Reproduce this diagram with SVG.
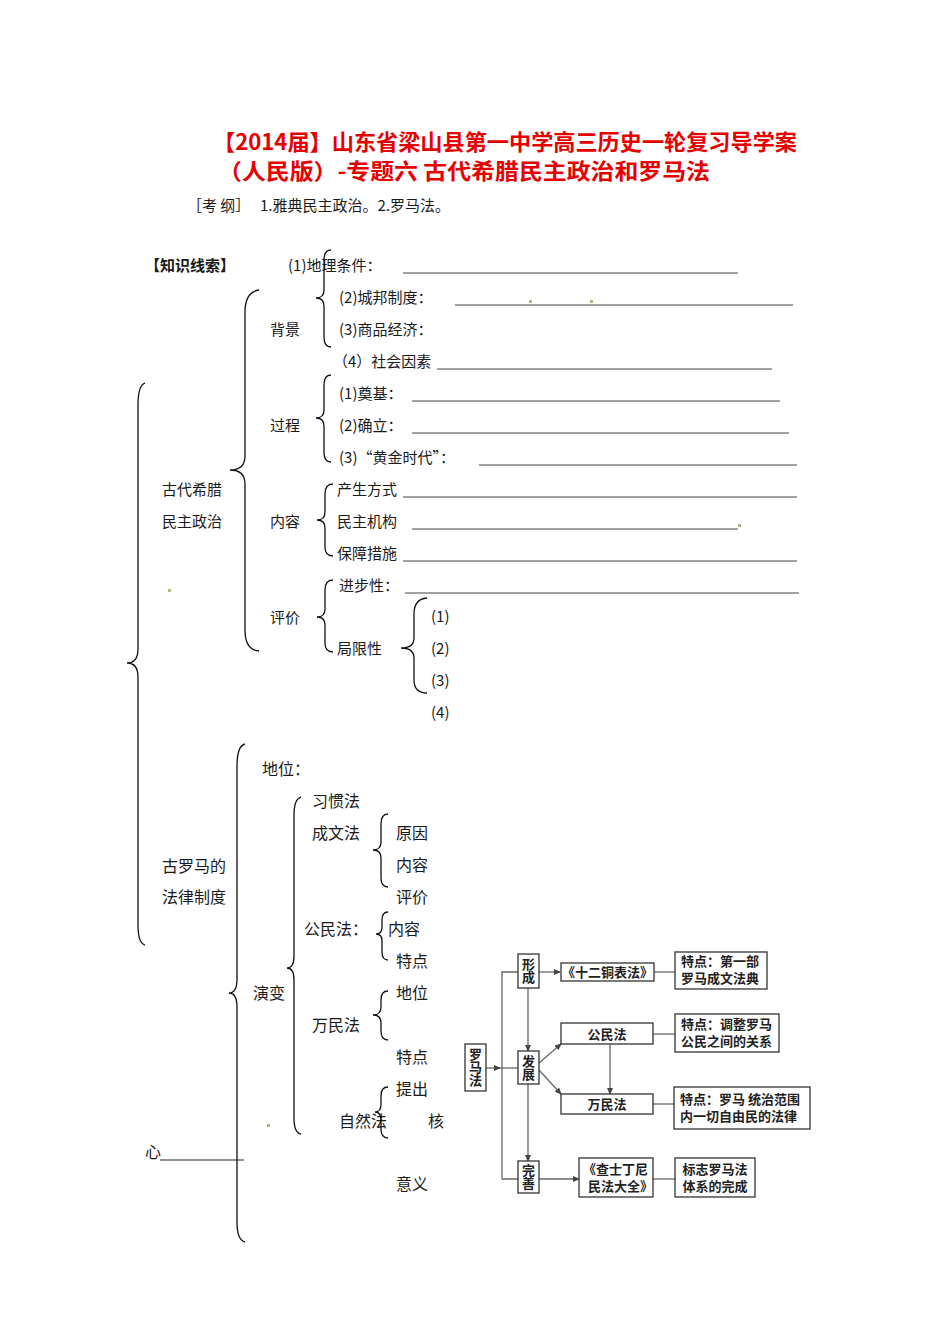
<svg xmlns="http://www.w3.org/2000/svg" width="950" height="1344" viewBox="0 0 950 1344">
<style>
text{font-family:"Noto Sans CJK SC","Liberation Sans",sans-serif;fill:#1a1a1a}
.t{fill:#e60000;font-weight:bold;font-size:22px}
.s15{font-size:15px}
.s16{font-size:16px}
.b{fill:none;stroke:#111;stroke-width:1.3}
.u{stroke:#444;stroke-width:1}
.dot{fill:#b8b27a}
.box{fill:#fff;stroke:#333;stroke-width:1.3}
.c{fill:none;stroke:#666;stroke-width:1.3}
.f{font-size:13px;font-weight:bold;fill:#222}
.v{font-size:13px;font-weight:bold;fill:#222;writing-mode:vertical-rl;text-anchor:middle}
</style>
<defs>
<marker id="ah" markerWidth="7" markerHeight="6" refX="6" refY="3" orient="auto" markerUnits="userSpaceOnUse">
<path d="M0,0 L7,3 L0,6 Z" fill="#444"/>
</marker>
</defs>
<rect width="950" height="1344" fill="#fff"/>

<g id="title">
<text class="t" x="213" y="150" textLength="584" lengthAdjust="spacingAndGlyphs">【2014届】山东省梁山县第一中学高三历史一轮复习导学案</text>
<text class="t" x="218" y="179" textLength="492" lengthAdjust="spacingAndGlyphs">（人民版）-专题六 古代希腊民主政治和罗马法</text>
<text class="s15" x="187" y="211">［考 纲］</text>
<text class="s15" x="260" y="211">1.雅典民主政治。2.罗马法。</text>
<rect class="dot" x="314" y="208" width="3" height="3"/>
</g>

<g id="greece">
<text class="s15" x="145" y="271" font-weight="bold">【知识线索】</text>
<text class="s15" x="288" y="271">(1)地理条件：</text>
<line class="u" x1="403" y1="273" x2="738" y2="273"/>
<text class="s15" x="339" y="303">(2)城邦制度：</text>
<line class="u" x1="455" y1="305" x2="793" y2="305"/>
<rect class="dot" x="529" y="300" width="3" height="3"/>
<rect class="dot" x="590" y="300" width="3" height="3"/>
<text class="s15" x="270" y="335">背景</text>
<text class="s15" x="339" y="335">(3)商品经济：</text>
<text class="s15" x="333" y="367">（4）社会因素</text>
<line class="u" x1="437" y1="369" x2="772" y2="369"/>
<text class="s15" x="339" y="399">(1)奠基：</text>
<line class="u" x1="412" y1="401" x2="780" y2="401"/>
<text class="s15" x="270" y="431">过程</text>
<text class="s15" x="339" y="431">(2)确立：</text>
<line class="u" x1="412" y1="433" x2="789" y2="433"/>
<text class="s15" x="339" y="463">(3)“黄金时代”：</text>
<line class="u" x1="479" y1="465" x2="797" y2="465"/>
<text class="s15" x="162" y="495">古代希腊</text>
<text class="s15" x="162" y="527">民主政治</text>
<text class="s15" x="337" y="495">产生方式</text>
<line class="u" x1="403" y1="497" x2="797" y2="497"/>
<text class="s15" x="270" y="527">内容</text>
<text class="s15" x="337" y="527">民主机构</text>
<line class="u" x1="412" y1="529" x2="738" y2="529"/>
<rect class="dot" x="738" y="524" width="3" height="3"/>
<text class="s15" x="337" y="559">保障措施</text>
<line class="u" x1="403" y1="561" x2="797" y2="561"/>
<text class="s15" x="339" y="591">进步性：</text>
<line class="u" x1="405" y1="593" x2="799" y2="593"/>
<rect class="dot" x="168" y="589" width="3" height="3"/>
<text class="s15" x="270" y="623">评价</text>
<text class="s15" x="431" y="622">(1)</text>
<text class="s15" x="337" y="654">局限性</text>
<text class="s15" x="431" y="654">(2)</text>
<text class="s15" x="431" y="686">(3)</text>
<text class="s15" x="431" y="718">(4)</text>
</g>

<g id="rome">
<text class="s16" x="162" y="872">古罗马的</text>
<text class="s16" x="162" y="903">法律制度</text>
<text class="s16" x="262" y="775">地位：</text>
<text class="s16" x="312" y="807">习惯法</text>
<text class="s16" x="312" y="839">成文法</text>
<text class="s16" x="396" y="839">原因</text>
<text class="s16" x="396" y="871">内容</text>
<text class="s16" x="396" y="903">评价</text>
<text class="s16" x="304" y="935">公民法：</text>
<text class="s16" x="388" y="935">内容</text>
<text class="s16" x="396" y="967">特点</text>
<text class="s16" x="253" y="999">演变</text>
<text class="s16" x="396" y="999">地位</text>
<text class="s16" x="312" y="1031">万民法</text>
<text class="s16" x="396" y="1063">特点</text>
<text class="s16" x="396" y="1095">提出</text>
<text class="s16" x="339" y="1127">自然法</text>
<text class="s16" x="428" y="1127">核</text>
<text class="s16" x="145" y="1158">心</text>
<line x1="160" y1="1160" x2="244" y2="1160" stroke="#222" stroke-width="1"/>
<text class="s16" x="396" y="1190">意义</text>
<rect class="dot" x="267" y="1124" width="3" height="3"/>
</g>

<g id="braces">
<path class="b" d="M331,250 Q324,250 324,260 L324,290 Q324,298 316,298 Q324,298 324,306 L324,337 Q324,347 331,347"/>
<path class="b" d="M259,290 Q245,292 245,312 L245,456 Q245,470 230,470 Q245,470 245,484 L245,630 Q245,650 259,651"/>
<path class="b" d="M331,375 Q324,375 324,385 L324,410 Q324,418 316,418 Q324,418 324,426 L324,452 Q324,462 331,462"/>
<path class="b" d="M333,484 Q325,484 325,494 L325,512 Q325,520 317,520 Q325,520 325,528 L325,547 Q325,556 333,556"/>
<path class="b" d="M333,580 Q325,580 325,590 L325,609 Q325,617 317,617 Q325,617 325,625 L325,643 Q325,652 333,652"/>
<path class="b" d="M427,598 Q414,599 414,614 L414,638 Q414,648 401,648 Q414,648 414,658 L414,680 Q414,693 427,693"/>
<path class="b" d="M145,383 Q138,385 138,405 L138,649 Q138,663 127,663 Q138,663 138,677 L138,925 Q138,943 145,945"/>
<path class="b" d="M245,744 Q237,746 237,766 L237,979 Q237,993 229,993 Q237,993 237,1007 L237,1222 Q237,1240 245,1242"/>
<path class="b" d="M301,797 Q294,799 294,815 L294,956 Q294,968 287,968 Q294,968 294,980 L294,1118 Q294,1133 301,1134"/>
<path class="b" d="M388,814 Q381,814 381,824 L381,842 Q381,850 373,850 Q381,850 381,858 L381,878 Q381,887 388,887"/>
<path class="b" d="M388,912 Q382,912 382,920 L382,927 Q382,934 376,934 Q382,934 382,941 L382,952 Q382,960 388,960"/>
<path class="b" d="M388,991 Q381,991 381,1000 L381,1007 Q381,1015 373,1015 Q381,1015 381,1023 L381,1031 Q381,1040 388,1040"/>
<path class="b" d="M388,1087 Q381,1087 381,1096 L381,1104 Q381,1112 375,1112 Q381,1112 381,1120 L381,1129 Q381,1138 388,1138"/>
</g>

<g id="connectors">
<path class="c" d="M486,1068 L500,1068" marker-end="url(#ah)"/>
<path class="c" d="M500,1068 L518,1068"/>
<path class="c" d="M518,972 L502,972 L502,1179 L518,1179"/>
<path class="c" d="M539,972 L560,972" marker-end="url(#ah)"/>
<path class="c" d="M654,972 L675,972"/>
<path class="c" d="M528,988 L528,1051" marker-end="url(#ah)"/>
<path class="c" d="M539,1063 L561,1044" marker-end="url(#ah)"/>
<path class="c" d="M539,1070 L561,1094" marker-end="url(#ah)"/>
<path class="c" d="M653,1034 L675,1034"/>
<path class="c" d="M610,1044 L610,1094" marker-end="url(#ah)"/>
<path class="c" d="M653,1104 L674,1104"/>
<path class="c" d="M528,1084 L528,1161" marker-end="url(#ah)"/>
<path class="c" d="M539,1179 L579,1179" marker-end="url(#ah)"/>
<path class="c" d="M653,1179 L675,1179"/>
</g>

<g id="n-luomafa">
<rect class="box" x="465" y="1044" width="21" height="47"/>
<text class="v" x="475.5" y="1067.5">罗马法</text>
</g>
<g id="n-xingcheng">
<rect class="box" x="518" y="954" width="21" height="34"/>
<text class="v" x="528.5" y="971">形成</text>
</g>
<g id="n-fazhan">
<rect class="box" x="518" y="1051" width="21" height="33"/>
<text class="v" x="528.5" y="1067.5">发展</text>
</g>
<g id="n-wanshan">
<rect class="box" x="518" y="1161" width="21" height="32"/>
<text class="v" x="528.5" y="1177">完善</text>
</g>
<g id="n-shier">
<rect class="box" x="561" y="963" width="93" height="18"/>
<text class="f" x="607.5" y="977" text-anchor="middle">《十二铜表法》</text>
</g>
<g id="n-tedian1">
<rect class="box" x="675" y="952" width="92" height="37"/>
<text class="f"><tspan x="681" y="966">特点：第一部</tspan><tspan x="681" y="983">罗马成文法典</tspan></text>
</g>
<g id="n-gongminfa">
<rect class="box" x="561" y="1023" width="92" height="21"/>
<text class="f" x="607" y="1039" text-anchor="middle">公民法</text>
</g>
<g id="n-tedian2">
<rect class="box" x="675" y="1014" width="104" height="38"/>
<text class="f"><tspan x="681" y="1029">特点：调整罗马</tspan><tspan x="681" y="1046">公民之间的关系</tspan></text>
</g>
<g id="n-wanminfa">
<rect class="box" x="561" y="1094" width="92" height="20"/>
<text class="f" x="607" y="1109" text-anchor="middle">万民法</text>
</g>
<g id="n-tedian3">
<rect class="box" x="674" y="1087" width="136" height="42"/>
<text class="f"><tspan x="680" y="1104">特点：罗马 统治范围</tspan><tspan x="680" y="1121">内一切自由民的法律</tspan></text>
</g>
<g id="n-chashiding">
<rect class="box" x="579" y="1158" width="74" height="39"/>
<text class="f"><tspan x="583" y="1174">《查士丁尼</tspan><tspan x="588" y="1191">民法大全》</tspan></text>
</g>
<g id="n-biaozhi">
<rect class="box" x="675" y="1158" width="80" height="39"/>
<text class="f" text-anchor="middle"><tspan x="715" y="1174">标志罗马法</tspan><tspan x="715" y="1191">体系的完成</tspan></text>
</g>
</svg>
